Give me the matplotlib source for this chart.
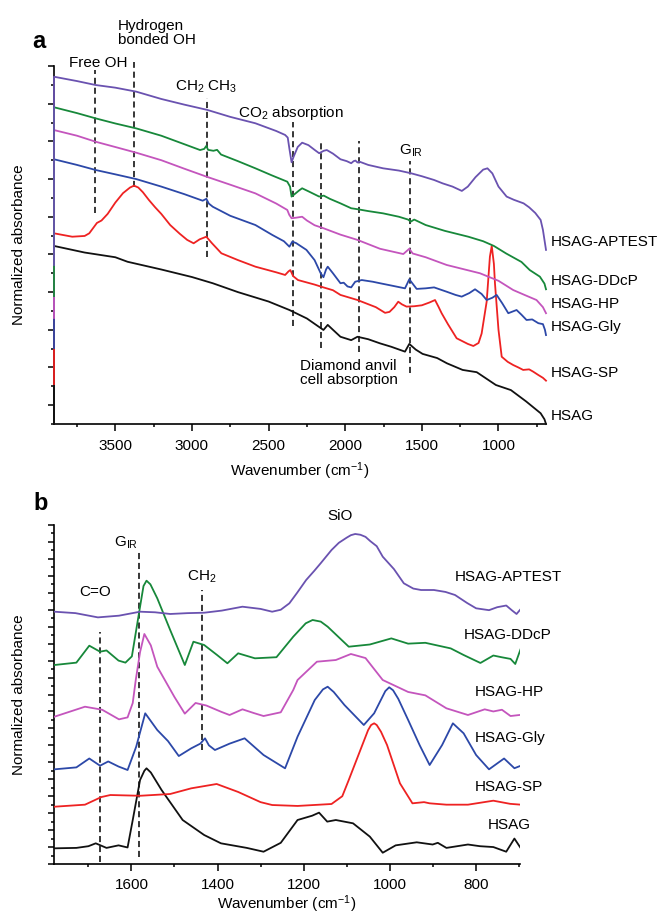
import matplotlib
matplotlib.use("Agg")
import matplotlib.pyplot as plt
from matplotlib.ticker import MultipleLocator

plt.rcParams['font.family'] = ['Liberation Sans', 'DejaVu Sans']
plt.rcParams['mathtext.default'] = 'regular'
plt.rcParams['axes.linewidth'] = 1.2

# ---------------- data: panel a ----------------
series_names = ["HSAG-APTEST", "HSAG-DDcP", "HSAG-HP", "HSAG-Gly", "HSAG-SP", "HSAG"]
series_colors = ["#6a52b0", "#17883a", "#c455bd", "#2c48a8", "#ee2222", "#111111"]

a_aptest_wn = [3900, 3750, 3628, 3500, 3364, 3200, 3050, 2900, 2750, 2586, 2450, 2392, 2375, 2364,
               2350, 2336, 2310, 2281, 2240, 2200, 2170, 2140, 2120, 2080, 2031, 1990, 1961, 1945,
               1933, 1920, 1906, 1850, 1753, 1650, 1572, 1500, 1420, 1364, 1300, 1239, 1200, 1150,
               1100, 1072, 1040, 1000, 947, 900, 836, 800, 760, 725, 710, 690]
a_aptest = [18.43, 18.2, 17.99, 17.85, 17.64, 17.25, 16.95, 16.67, 16.3, 15.96, 15.55, 15.34, 15.2, 14.6,
            13.89, 14.2, 14.7, 14.93, 14.8, 14.55, 14.37, 14.5, 14.54, 14.35, 14.05, 13.95, 13.84, 13.95,
            13.98, 13.88, 13.92, 13.75, 13.57, 13.45, 13.31, 13.15, 12.95, 12.77, 12.6, 12.37, 12.6, 13.1,
            13.5, 13.57, 13.3, 12.6, 12.07, 11.9, 11.71, 11.5, 11.2, 10.83, 10.3, 9.24]

a_ddcp_wn = [3900, 3750, 3628, 3500, 3364, 3200, 3050, 2947, 2920, 2906, 2895, 2860, 2836, 2810, 2700,
             2586, 2480, 2378, 2360, 2350, 2330, 2300, 2281, 2240, 2170, 2140, 2100, 2031, 1961, 1920,
             1850, 1753, 1650, 1590, 1572, 1550, 1475, 1350, 1197, 1100, 1030, 950, 850, 796, 730, 700, 690]
a_ddcp = [16.81, 16.5, 16.22, 15.95, 15.69, 15.3, 14.85, 14.54, 14.6, 14.76, 14.55, 14.5, 14.55, 14.3, 13.95,
          13.57, 13.2, 12.86, 12.6, 12.07, 12.2, 12.4, 12.51, 12.35, 12.07, 12.12, 11.95, 11.71, 11.45, 11.4,
          11.3, 11.18, 11.0, 10.85, 10.74, 10.85, 10.56, 10.25, 9.94, 9.7, 9.45, 9.05, 8.6, 8.17, 7.82, 7.45, 7.15]

a_hp_wn = [3900, 3750, 3628, 3500, 3364, 3200, 3050, 2906, 2750, 2586, 2450, 2378, 2365, 2350, 2320, 2281,
           2250, 2200, 2142, 2031, 1920, 1773, 1621, 1582, 1560, 1475, 1338, 1121, 1000, 904, 830, 752, 710, 690]
a_hp = [15.6, 15.3, 14.98, 14.7, 14.4, 14.0, 13.55, 13.13, 12.7, 12.24, 11.7, 11.36, 11.1, 10.92, 10.95, 11.0,
        10.8, 10.55, 10.39, 10.05, 9.77, 9.3, 9.02, 9.3, 9.05, 8.85, 8.44, 8.0, 7.6, 7.11, 6.85, 6.58, 6.2, 5.88]

a_gly_wn = [3900, 3750, 3628, 3500, 3364, 3200, 3050, 2930, 2906, 2890, 2864, 2750, 2586, 2475, 2400, 2364,
            2345, 2320, 2253, 2200, 2160, 2142, 2125, 2114, 2080, 2031, 2010, 1985, 1961, 1935, 1892, 1820,
            1773, 1700, 1610, 1582, 1534, 1475, 1420, 1338, 1280, 1240, 1190, 1153, 1110, 1077, 1040, 1012,
            975, 936, 882, 850, 817, 780, 740, 710, 697, 690]
a_gly = [14.05, 13.75, 13.48, 13.25, 13.0, 12.6, 12.2, 11.85, 11.95, 11.7, 11.53, 11.05, 10.56, 10.03, 9.7, 9.41,
         9.68, 9.6, 9.24, 8.7, 8.0, 7.79, 8.2, 8.35, 8.0, 7.47, 7.5, 7.3, 7.25, 7.55, 7.64, 7.55,
         7.47, 7.35, 7.2, 7.68, 7.17, 7.2, 7.25, 7.02, 6.85, 6.76, 6.95, 7.15, 6.9, 6.58, 6.7, 6.85,
         6.4, 5.88, 6.05, 5.8, 5.52, 5.55, 5.35, 5.3, 5.0, 4.72]

a_sp_wn = [3900, 3781, 3700, 3670, 3620, 3590, 3550, 3500, 3450, 3404, 3378, 3350, 3320, 3281, 3240, 3200,
           3142, 3080, 3031, 2989, 2950, 2906, 2870, 2808, 2700, 2586, 2450, 2392, 2370, 2358, 2340, 2308,
           2200, 2142, 2080, 2031, 1920, 1800, 1740, 1711, 1680, 1654, 1630, 1600, 1550, 1500, 1450, 1414,
           1390, 1371, 1330, 1273, 1200, 1164, 1130, 1110, 1077, 1056, 1044, 1030, 1023, 1000, 979, 940,
           904, 870, 839, 800, 774, 740, 710, 690]
a_sp = [10.12, 9.94, 9.98, 10.12, 10.67, 10.8, 11.15, 11.75, 12.25, 12.55, 12.65, 12.55, 12.3, 11.89, 11.5, 11.15,
        10.56, 10.1, 9.77, 9.59, 9.8, 9.94, 9.6, 9.06, 8.7, 8.35, 8.05, 7.91, 8.1, 8.17, 7.85, 7.64,
        7.4, 7.25, 7.1, 6.85, 6.58, 6.2, 5.9, 5.95, 6.2, 6.49, 6.35, 6.23, 6.25, 6.3, 6.45, 6.58,
        6.2, 5.88, 5.3, 4.55, 4.25, 4.14, 4.3, 4.8, 6.5, 8.88, 9.45, 8.5, 7.47, 5.0, 3.57, 3.3,
        3.13, 3.0, 2.87, 2.9, 2.78, 2.6, 2.45, 2.3]

a_hsag_wn = [3900, 3700, 3500, 3420, 3200, 3000, 2864, 2700, 2500, 2364, 2250, 2142, 2114, 2080, 2031, 1961,
             1920, 1850, 1773, 1700, 1610, 1582, 1540, 1495, 1400, 1336, 1234, 1142, 1017, 919, 820, 725,
             700, 690]
a_hsag = [9.45, 9.1, 8.85, 8.61, 8.2, 7.8, 7.47, 7.0, 6.5, 6.05, 5.6, 4.99, 5.26, 5.0, 4.63, 4.45,
          4.63, 4.5, 4.28, 4.1, 3.84, 4.25, 3.95, 3.72, 3.5, 3.22, 2.87, 2.75, 2.07, 1.8, 1.2, 0.57,
          0.25, 0.0]

# value each spectrum drops to at its first point (vertical segment at the left edge)
a_edge_values = [8.44, 6.79, 5.63, 4.03, 2.12, 0.0]

a_marker_wn = [3630, 3375, 2900, 2340, 2160, 1910, 1580]

# ---------------- data: panel b ----------------
b_aptest_wn = [1779, 1730, 1678, 1629, 1580, 1545, 1510, 1470, 1431, 1390, 1342, 1300, 1273, 1253, 1233,
               1215, 1194, 1175, 1160, 1135, 1118, 1100, 1090, 1080, 1068, 1056, 1045, 1030, 1016, 990,
               967, 945, 927, 897, 870, 848, 820, 799, 769, 750, 729, 715, 705, 695]
b_aptest = [29.77, 29.6, 29.1, 29.3, 29.77, 29.7, 29.5, 29.6, 29.65, 29.9, 30.36, 30.1, 29.77, 30.0, 30.76,
            32.0, 33.51, 34.6, 35.5, 37.05, 37.9, 38.5, 38.8, 38.94, 38.85, 38.6, 38.1, 37.5, 36.26, 34.8,
            33.12, 32.5, 32.33, 32.33, 32.1, 31.74, 30.8, 30.17, 29.95, 30.3, 30.5, 29.9, 29.5, 30.1]

b_ddcp_wn = [1779, 1728, 1698, 1673, 1658, 1630, 1614, 1599, 1580, 1572, 1565, 1556, 1540, 1510, 1476, 1456,
             1431, 1401, 1377, 1352, 1313, 1263, 1224, 1195, 1179, 1160, 1144, 1095, 1046, 996, 957, 917,
             858, 828, 789, 759, 740, 719, 708, 695]
b_ddcp = [23.48, 23.76, 25.76, 25.05, 25.2, 24.0, 23.76, 24.5, 30.36, 32.8, 33.43, 33.0, 31.35, 27.61, 23.48, 26.23,
          25.84, 24.66, 23.68, 24.86, 24.27, 24.4, 26.82, 28.4, 28.79, 28.6, 28.0, 25.64, 25.9, 26.62, 26.0, 26.1,
          25.44, 24.66, 23.72, 24.6, 24.4, 24.2, 23.6, 25.44]

b_hp_wn = [1779, 1708, 1668, 1629, 1609, 1597, 1590, 1580, 1570, 1555, 1540, 1500, 1476, 1451, 1426, 1392,
           1372, 1342, 1315, 1293, 1253, 1224, 1214, 1169, 1125, 1090, 1056, 1016, 957, 917, 868, 818, 779,
           759, 739, 719, 695]
b_hp = [17.38, 18.56, 18.2, 17.07, 17.3, 19.0, 21.71, 25.0, 27.14, 25.8, 23.28, 19.7, 17.74, 19.0, 18.7, 17.97,
        17.58, 18.25, 17.8, 17.46, 17.9, 20.53, 21.71, 23.87, 24.07, 24.78, 24.3, 21.71, 20.3, 19.9, 18.37, 17.58, 18.25,
        18.0, 18.2, 17.46, 17.6]

b_gly_wn = [1779, 1728, 1698, 1673, 1654, 1630, 1609, 1589, 1568, 1540, 1515, 1490, 1461, 1440, 1429, 1420,
            1406, 1372, 1337, 1293, 1243, 1214, 1174, 1155, 1144, 1130, 1105, 1060, 1036, 1010, 1001, 992,
            980, 957, 930, 907, 878, 853, 828, 799, 769, 734, 710, 695]
b_gly = [11.17, 11.4, 12.45, 11.6, 12.1, 11.5, 11.09, 13.84, 17.78, 15.81, 14.5, 12.74, 13.65, 14.2, 14.83, 14.0,
         13.45, 14.2, 14.83, 12.86, 11.29, 15.02, 19.35, 20.6, 20.92, 20.3, 18.76, 16.4, 17.78, 20.4, 20.85, 20.5,
         19.5, 17.0, 14.0, 11.68, 14.04, 16.6, 15.42, 12.86, 11.17, 12.45, 11.3, 11.6]

b_sp_wn = [1779, 1708, 1670, 1649, 1580, 1510, 1461, 1402, 1352, 1300, 1273, 1214, 1135, 1110, 1095, 1065,
           1050, 1043, 1036, 1030, 1020, 1006, 976, 947, 920, 907, 868, 818, 759, 720, 695]
b_sp = [6.76, 7.0, 7.9, 8.14, 8.05, 8.26, 8.93, 9.44, 8.5, 7.3, 6.96, 6.85, 7.08, 8.0, 9.91, 13.84,
        15.8, 16.4, 16.6, 16.4, 15.6, 14.04, 9.52, 7.16, 7.3, 7.16, 7.0, 7.0, 7.47, 7.1, 7.0]

b_hsag_wn = [1779, 1728, 1700, 1683, 1658, 1630, 1609, 1597, 1580, 1570, 1565, 1555, 1530, 1481, 1431, 1392,
             1332, 1293, 1253, 1214, 1180, 1164, 1145, 1125, 1085, 1046, 1016, 986, 937, 900, 888, 868,
             818, 790, 759, 729, 710, 695]
b_hsag = [1.85, 1.9, 2.1, 2.44, 1.9, 2.2, 1.95, 5.19, 9.91, 11.0, 11.29, 10.8, 8.73, 5.19, 3.42, 2.44,
          1.9, 1.45, 2.5, 5.19, 5.7, 6.06, 5.0, 5.19, 4.8, 3.23, 1.33, 2.2, 2.56, 2.3, 2.5, 1.9,
          2.3, 2.1, 2.0, 1.45, 3.0, 1.85]

b_marker_wn = [1673, 1582, 1435]

# ---------------- figure ----------------
W, H = 663, 916
fig = plt.figure(figsize=(W / 100, H / 100), dpi=100)


def fx(x):
    return x / W


def fy(y):
    return 1 - y / H


def axes_px(left, top, right, bottom):
    return fig.add_axes([fx(left), fy(bottom), (right - left) / W, (bottom - top) / H])


def ftext(x, y, s, **kw):
    kw.setdefault('fontsize', 11)
    kw.setdefault('ha', 'left')
    kw.setdefault('va', 'center')
    fig.text(fx(x), fy(y), s, **kw)


def style_axes(ax, tickpad, xlabelpad):
    for side in ('top', 'right'):
        ax.spines[side].set_visible(False)
    ax.tick_params(axis='x', which='major', direction='out', length=5, width=1.1, labelsize=11, pad=tickpad)
    ax.tick_params(axis='x', which='minor', direction='out', length=2.5, width=1.1)
    ax.tick_params(axis='y', which='major', direction='out', length=4, width=1.1, labelleft=False)
    ax.tick_params(axis='y', which='minor', direction='out', length=2, width=1.1)
    ax.set_xlabel('Wavenumber (cm$^{-1}$)', fontsize=11, labelpad=xlabelpad)
    ax.set_ylabel('Normalized absorbance', fontsize=11, labelpad=15)


dash = dict(color='black', lw=1.1, ls=(0, (4, 2.5)), clip_on=False, zorder=1)

# ---- panel a ----
axa = axes_px(54, 66, 546, 424)
a_wn = [a_hsag_wn, a_sp_wn, a_gly_wn, a_hp_wn, a_ddcp_wn, a_aptest_wn]
a_val = [a_hsag, a_sp, a_gly, a_hp, a_ddcp, a_aptest]
order = [5, 4, 3, 2, 1, 0]
for k, i in enumerate(order):
    wn = a_wn[k]
    v = a_val[k]
    axa.plot([wn[0]] + wn, [a_edge_values[i]] + v, color=series_colors[i], lw=1.3,
             clip_on=False, zorder=3 + k, solid_joinstyle='round')

a_marker_top = [18.79, 19.2, 17.3, 16.03, 14.92, 15.02, 13.96]
a_marker_bottom = [11.2, 12.6, 8.86, 5.2, 4.03, 3.82, 2.71]
for w, t, b in zip(a_marker_wn, a_marker_top, a_marker_bottom):
    axa.plot([w, w], [b, t], **dash)

axa.set_xlim(3900, 690)
axa.set_ylim(0, 19)
axa.xaxis.set_major_locator(MultipleLocator(500))
axa.xaxis.set_minor_locator(MultipleLocator(250))
axa.set_yticks(list(range(1, 20, 2)))
axa.set_yticks(list(range(0, 19, 2)), minor=True)
style_axes(axa, 6, 5)

ftext(32, 42, 'a', fontsize=17, fontweight='bold')
ftext(118, 33, 'Hydrogen\nbonded OH', linespacing=1.05)
ftext(69, 63, 'Free OH')
ftext(175, 87, 'CH$_2$ CH$_3$')
ftext(238, 113, 'CO$_2$ absorption')
ftext(399, 151, 'G$_{IR}$')
ftext(300, 373, 'Diamond anvil\ncell absorption', linespacing=1.05)
a_label_y = [242, 281, 304, 327, 373, 416]
for name, yy in zip(series_names, a_label_y):
    ftext(551, yy, name)

# ---- panel b ----
axb = axes_px(54, 525, 520, 864)
b_wn = [b_hsag_wn, b_sp_wn, b_gly_wn, b_hp_wn, b_ddcp_wn, b_aptest_wn]
b_val = [b_hsag, b_sp, b_gly, b_hp, b_ddcp, b_aptest]
for k, i in enumerate(order):
    axb.plot(b_wn[k], b_val[k], color=series_colors[i], lw=1.3, zorder=3 + k,
             solid_joinstyle='round')

b_marker_top = [27.41, 36.85, 32.33]
b_marker_bottom = [0.27, 0.86, 13.45]
for w, t, b in zip(b_marker_wn, b_marker_top, b_marker_bottom):
    axb.plot([w, w], [b, t], **dash)

axb.set_xlim(1780, 697)
axb.set_ylim(0, 40)
axb.xaxis.set_major_locator(MultipleLocator(200))
axb.xaxis.set_minor_locator(MultipleLocator(100))
axb.set_yticks(list(range(0, 41, 2)))
axb.set_yticks(list(range(1, 40, 2)), minor=True)
style_axes(axb, 5, 1)

ftext(33, 504, 'b', fontsize=17, fontweight='bold')
ftext(114, 543, 'G$_{IR}$')
ftext(79, 592, 'C=O')
ftext(187, 577, 'CH$_2$')
ftext(327, 516, 'SiO')
b_label_x = [455, 464, 475, 475, 475, 488]
b_label_y = [577, 635, 692, 738, 787, 825]
for name, xx, yy in zip(series_names, b_label_x, b_label_y):
    ftext(xx, yy, name)

fig.savefig('out.png', dpi=100)
